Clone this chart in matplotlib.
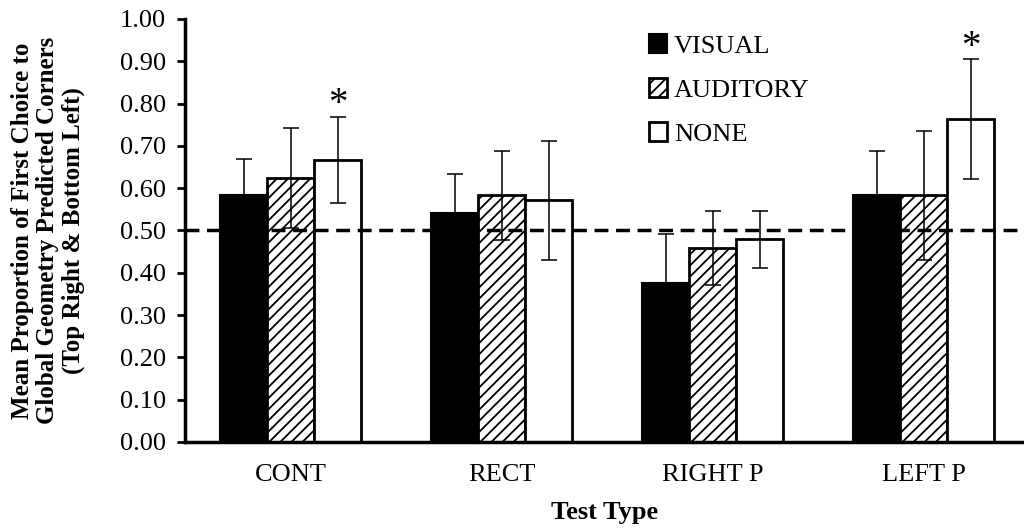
import numpy as np
import matplotlib.pyplot as plt

plt.rcParams['font.family'] = ['Liberation Serif', 'DejaVu Serif']
plt.rcParams['hatch.linewidth'] = 1.3

categorias = ['CONT', 'RECT', 'RIGHT P', 'LEFT P']
visual = [0.583, 0.542, 0.375, 0.583]
auditory = [0.625, 0.583, 0.458, 0.583]
none = [0.667, 0.571, 0.479, 0.763]
err_visual = [0.085, 0.092, 0.117, 0.105]
err_auditory = [0.118, 0.105, 0.087, 0.152]
err_none = [0.102, 0.140, 0.068, 0.142]
significativo = [True, False, False, True]  # asterisco sobre NONE

fig = plt.figure(figsize=(10.24, 5.29), dpi=100)
ax = fig.add_axes([0.181, 0.1645, 0.8193, 0.7996])

x = np.arange(len(categorias))
w = 0.223
err_kw = dict(ecolor='black', elinewidth=1.1, capsize=6, capthick=1.1)

ax.bar(x - w, visual, w, color='black', edgecolor='black', linewidth=1.5,
       yerr=err_visual, error_kw=err_kw, label='VISUAL', zorder=2)
ax.bar(x, auditory, w, color='white', edgecolor='black', linewidth=2, hatch='///',
       yerr=err_auditory, error_kw=err_kw, label='AUDITORY', zorder=2)
ax.bar(x + w, none, w, color='white', edgecolor='black', linewidth=2,
       yerr=err_none, error_kw=err_kw, label='NONE', zorder=2)

# linea de azar
ax.axhline(0.5, color='black', linestyle=(0, (4, 2.2)), linewidth=2.5, zorder=3)

for i, s in enumerate(significativo):
    if s:
        ax.annotate('*', (x[i] + w, none[i] + err_none[i]), xytext=(0, 12),
                    textcoords='offset pixels', ha='center', va='center', fontsize=28)

ax.set_ylim(0, 1.0)
ax.set_xlim(-0.5, 3.476)
ax.set_yticks(np.arange(0, 1.01, 0.1))
ax.set_yticklabels(['%.2f' % v for v in np.arange(0, 1.01, 0.1)], fontsize=19)
ax.set_xticks(x)
ax.set_xticklabels(categorias, fontsize=19)
ax.tick_params(axis='x', length=0, pad=16)
ax.tick_params(axis='y', length=6, width=2, pad=8)

ax.spines['top'].set_visible(False)
ax.spines['right'].set_visible(False)
ax.spines['left'].set_linewidth(2.5)
ax.spines['bottom'].set_linewidth(2.5)

ax.set_xlabel('Test Type', fontsize=19, fontweight='bold', labelpad=11)
ax.set_ylabel('Mean Proportion of First Choice to\nGlobal Geometry Predicted Corners\n(Top Right & Bottom Left)',
              fontsize=18, fontweight='bold', labelpad=25, linespacing=1.12)

ax.legend(loc='upper left', bbox_to_anchor=(0.524, 1.02), frameon=False, fontsize=19,
          handlelength=0.7, handleheight=0.7, handletextpad=0.25, labelspacing=0.78)

plt.savefig('out.png', dpi=100)
